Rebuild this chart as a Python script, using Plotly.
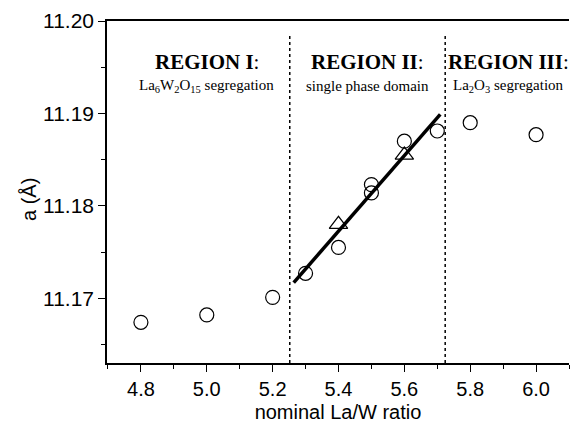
import plotly.graph_objects as go

# data
circle_x = [4.8, 5.0, 5.2, 5.3, 5.4, 5.5, 5.5, 5.6, 5.7, 5.8, 6.0]
circle_y = [11.1674, 11.1682, 11.1701, 11.1727, 11.1755, 11.1823, 11.1814, 11.1870, 11.1881, 11.1890, 11.1877]
tri_x = [5.4, 5.6]
tri_y = [11.1780, 11.1855]
fit_x = [5.264, 5.709]
fit_y = [11.1717, 11.1899]
boundaries = [5.252, 5.724]
x_ticks = [4.8, 5.0, 5.2, 5.4, 5.6, 5.8, 6.0]
y_ticks = [11.17, 11.18, 11.19, 11.20]
y_tick_labels = ["11.17", "11.18", "11.19", "11.20"]

fig = go.Figure()
fig.add_trace(go.Scatter(x=fit_x, y=fit_y, mode="lines",
                         line=dict(color="black", width=3.5), showlegend=False))
fig.add_trace(go.Scatter(x=circle_x, y=circle_y, mode="markers",
                         marker=dict(symbol="circle-open", size=14, color="black",
                                     line=dict(width=1.2, color="black")),
                         showlegend=False))
fig.add_trace(go.Scatter(x=tri_x, y=tri_y, mode="markers",
                         marker=dict(symbol="triangle-up-open", size=16, color="black",
                                     line=dict(width=1.2, color="black")),
                         showlegend=False))

for b in boundaries:
    fig.add_shape(type="line", x0=b, x1=b, xref="x", yref="paper", y0=0, y1=0.965,
                  line=dict(color="black", width=1.5, dash="dot"))

serif = "Liberation Serif"
regions = [
    (207, "<b>REGION I</b>:", "La<sub>6</sub>W<sub>2</sub>O<sub>15</sub> segregation"),
    (368, "<b>REGION II</b>:", "single phase domain"),
    (509, "<b>REGION III</b>:", "La<sub>2</sub>O<sub>3</sub> segregation"),
]
for px, title, sub in regions:
    xd = 4.697 + (px - 107) / 330.0
    fig.add_annotation(x=xd, y=11.1956, xref="x", yref="y", text=title, showarrow=False,
                       font=dict(family=serif, size=21, color="black"), xanchor="center", yanchor="middle")
    fig.add_annotation(x=xd, y=11.1930, xref="x", yref="y", text=sub, showarrow=False,
                       font=dict(family=serif, size=15, color="black"), xanchor="center", yanchor="middle")

fig.add_annotation(x=(16 - 107) / 462.0, y=1 - (200 - 21) / 342.0, xref="paper", yref="paper",
                   text="a (Å)", showarrow=False, textangle=-90,
                   font=dict(family="Liberation Sans", size=20, color="black"))

fig.update_layout(
    width=570, height=432,
    margin=dict(l=107, r=1, t=21, b=69),
    plot_bgcolor="white", paper_bgcolor="white",
    font=dict(family="Liberation Sans", size=20, color="black"),
    xaxis=dict(range=[4.697, 6.1], tickvals=x_ticks, ticktext=["%.1f" % v for v in x_ticks],
               ticks="outside", ticklen=7, tickwidth=1.3, tickcolor="black",
               showline=True, linecolor="black", linewidth=1.5, mirror=True,
               showgrid=False, zeroline=False,
               minor=dict(dtick=0.1, ticks="outside", ticklen=4, tickwidth=1.3, tickcolor="black", tick0=4.7),
               title=dict(text="nominal La/W ratio", font=dict(size=20), standoff=6),
               tickfont=dict(size=20)),
    yaxis=dict(range=[11.163, 11.20], tickvals=y_ticks, ticktext=y_tick_labels,
               ticks="outside", ticklen=7, tickwidth=1.3, tickcolor="black",
               showline=True, linecolor="black", linewidth=1.5,
               showgrid=False, zeroline=False,
               minor=dict(dtick=0.005, tick0=11.165, ticks="outside", ticklen=4, tickwidth=1.3, tickcolor="black"),
               tickfont=dict(size=21)),
)

fig.write_html("out.html")
